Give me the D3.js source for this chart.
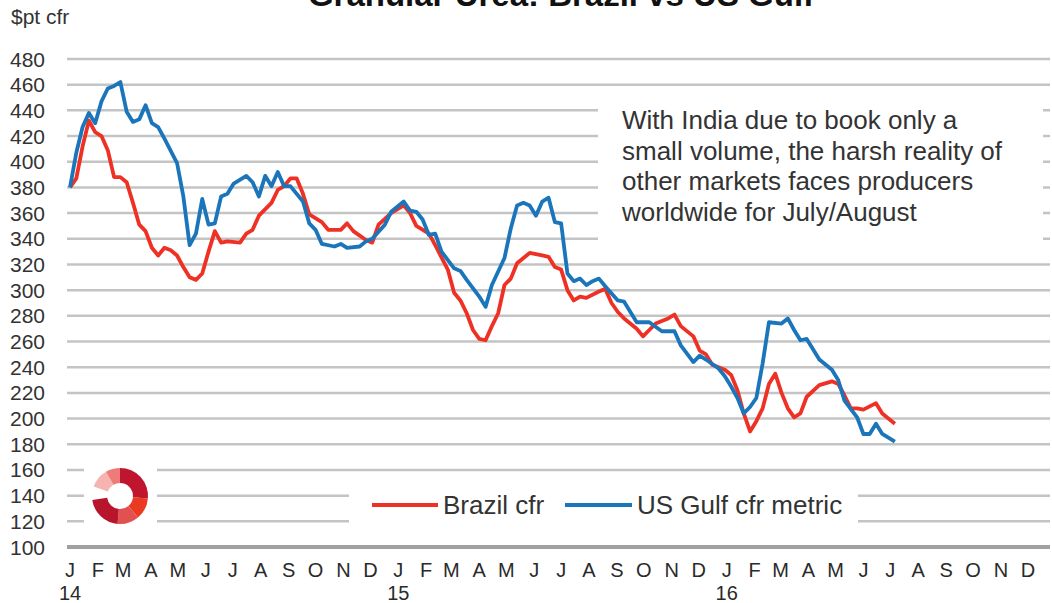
<!DOCTYPE html>
<html>
<head>
<meta charset="utf-8">
<script src="https://cdn.jsdelivr.net/npm/d3@7"></script>
<style>
body{margin:0;background:#fff}
svg{display:block;font-family:"Liberation Sans",Arial,sans-serif}
</style>
</head>
<body>
<svg id="chart"></svg>
<script>
const width = 1052, height = 603

// weekly prices, $/t cfr, week 0 = first week of Jan 2014
const usWeeks = [0,1,2,3,4,5,6,7,8,9,10,11,12,13,14,15,17,18,19,20,21,22,23,24,25,26,28,29,30,31,32,33,34,35,37,38,39,40,42,43,44,46,47,48,50,51,53,54,55,56,57,58,59,61,62,63,65,66,67,69,70,71,72,73,74,75,76,77,78,79,80,81,82,83,84,85,87,88,90,92,94,96,97,99,100,101,103,104,105,106,107,108,109,110,111,113,114,115,116,117,119,121,122,123,125,126,127,128,129,131]
const usValues = [380,407,427,438,430,447,457,459,462,439,431,433,444,430,427,418,399,373,335,344,371,351,352,373,375,383,389,384,373,389,381,392,381,381,369,352,347,336,334,336,333,334,338,340,351,361,369,362,361,355,343,344,330,317,315,308,295,287,304,325,348,366,368,366,358,369,372,353,352,313,307,309,304,307,309,303,292,291,275,275,268,268,257,244,249,246,239,233,225,216,204,209,216,243,275,274,278,269,261,262,246,238,230,214,201,188,188,196,188,182]

const brWeeks = [0,1,2,3,4,5,6,7,8,9,10,11,12,13,14,15,16,17,18,19,20,21,22,23,24,25,27,28,29,30,32,33,34,35,36,37,38,40,41,43,44,45,47,48,49,51,53,54,55,57,58,60,61,62,63,64,65,66,67,68,69,70,71,73,75,76,77,78,79,80,81,82,84,85,86,87,88,90,91,92,93,95,96,97,99,100,101,102,104,105,106,107,108,109,110,111,112,113,114,115,116,117,119,121,122,123,124,125,126,128,129,131]
const brValues = [380,387,412,432,423,420,409,388,388,384,368,351,346,333,327,333,331,327,318,310,308,313,330,346,337,338,337,344,347,358,368,378,381,387,387,375,359,353,347,347,352,346,339,337,351,360,366,360,350,344,335,316,298,292,282,269,262,261,272,282,304,309,321,329,327,326,318,316,300,292,295,294,299,301,290,283,278,270,264,269,274,278,281,272,264,253,250,242,238,234,222,204,190,198,208,227,235,220,208,201,204,217,226,229,227,218,208,208,207,212,204,196]

const seriesNames = ["Brazil cfr", "US Gulf cfr metric"]
const seriesColors = ["#ee3124", "#1b75bb"]
const monthLetters = ["J","F","M","A","M","J","J","A","S","O","N","D"]
const yTicks = d3.range(100, 481, 20)

const startDate = new Date(2014, 0, 1)
const toPoints = (weeks, values) => weeks.map((w, i) => ({date: d3.timeDay.offset(startDate, w * 7), value: values[i]}))
const series = [toPoints(brWeeks, brValues), toPoints(usWeeks, usValues)]

let svg = d3.select("#chart").attr("width", width).attr("height", height)

let x = d3.scaleTime().domain([new Date(2014, 0, 1), new Date(2016, 11, 1)]).range([70, 1028])
let y = d3.scaleLinear().domain([100, 480]).range([547, 59])

// title (top half is cut off in the original)
svg.append("text")
  .attr("x", 561).attr("y", 6)
  .attr("text-anchor", "middle")
  .style("font-size", "33px").style("font-weight", "bold").style("fill", "#111")
  .text("Granular Urea: Brazil vs US Gulf")

svg.append("text")
  .attr("x", 11).attr("y", 24)
  .style("font-size", "21px").style("fill", "#333")
  .text("$pt cfr")

// gridlines
svg.selectAll(".grid")
  .data(yTicks.filter(d => d > 100))
  .enter()
  .append("line")
  .attr("x1", 67).attr("x2", 1050)
  .attr("y1", d => y(d)).attr("y2", d => y(d))
  .style("stroke", "#c4c4c4").style("stroke-width", 2.5)

svg.append("line")
  .attr("x1", 67).attr("x2", 1050)
  .attr("y1", y(100)).attr("y2", y(100))
  .style("stroke", "#a0a0a0").style("stroke-width", 4)

// y labels
svg.selectAll(".ylab")
  .data(yTicks)
  .enter()
  .append("text")
  .attr("x", 45).attr("y", d => y(d) + 7.5)
  .attr("text-anchor", "end")
  .style("font-size", "21px").style("fill", "#333")
  .text(d => d)

// x labels
let months = d3.timeMonth.range(new Date(2014, 0, 1), new Date(2017, 0, 1))
svg.selectAll(".xlab")
  .data(months)
  .enter()
  .append("text")
  .attr("x", d => x(d)).attr("y", 577)
  .attr("text-anchor", "middle")
  .style("font-size", "20px").style("fill", "#2a2a2a")
  .text(d => monthLetters[d.getMonth()])

svg.selectAll(".year")
  .data(months.filter(d => d.getMonth() == 0 && d.getFullYear() < 2017))
  .enter()
  .append("text")
  .attr("x", d => x(d)).attr("y", 600)
  .attr("text-anchor", "middle")
  .style("font-size", "20px").style("fill", "#2a2a2a")
  .text(d => String(d.getFullYear()).slice(2))

// white boxes behind logo, legend and note
svg.append("rect").attr("x", 84).attr("y", 460).attr("width", 73).attr("height", 70).style("fill", "#fff")
svg.append("rect").attr("x", 349).attr("y", 481).attr("width", 509).attr("height", 50).style("fill", "#fff")
svg.append("rect").attr("x", 598).attr("y", 98).attr("width", 445).attr("height", 148).style("fill", "#fff")

// logo ring
const logoParts = [
  {a0: 0, a1: 95, c: "#c0152f"},
  {a0: 95, a1: 140, c: "#ea3a22"},
  {a0: 140, a1: 185, c: "#e2504f"},
  {a0: 185, a1: 262, c: "#b8152c"},
  {a0: 290, a1: 330, c: "#f6b3b0"},
  {a0: 330, a1: 360, c: "#ef7b78"}
]
let arc = d3.arc().innerRadius(13).outerRadius(28)
svg.append("g").attr("transform", "translate(120,496)")
  .selectAll("path")
  .data(logoParts)
  .enter()
  .append("path")
  .attr("d", d => arc({startAngle: d.a0 * Math.PI / 180, endAngle: d.a1 * Math.PI / 180}))
  .style("fill", d => d.c)

// note
const noteLines = ["With India due to book only a", "small volume, the harsh reality of", "other markets faces producers", "worldwide for July/August"]
svg.selectAll(".note")
  .data(noteLines)
  .enter()
  .append("text")
  .attr("x", 622).attr("y", (d, i) => 129 + i * 30.5)
  .style("font-size", "26px").style("fill", "#333")
  .text(d => d)

// lines
let line = d3.line().x(d => x(d.date)).y(d => y(d.value))
svg.selectAll(".series")
  .data(series)
  .enter()
  .append("path")
  .attr("d", d => line(d))
  .style("fill", "none")
  .style("stroke", (d, i) => seriesColors[i])
  .style("stroke-width", 3.8)
  .style("stroke-linejoin", "round")

// legend
const legendX = [{x1: 372, x2: 438, tx: 443}, {x1: 565, x2: 632, tx: 637}]
let leg = svg.selectAll(".legend")
  .data(seriesNames)
  .enter()
  .append("g")
leg.append("line")
  .attr("x1", (d, i) => legendX[i].x1).attr("x2", (d, i) => legendX[i].x2)
  .attr("y1", 505).attr("y2", 505)
  .style("stroke", (d, i) => seriesColors[i]).style("stroke-width", 3.8)
leg.append("text")
  .attr("x", (d, i) => legendX[i].tx).attr("y", 514)
  .style("font-size", "26px").style("fill", "#333")
  .text(d => d)
</script>
</body>
</html>
